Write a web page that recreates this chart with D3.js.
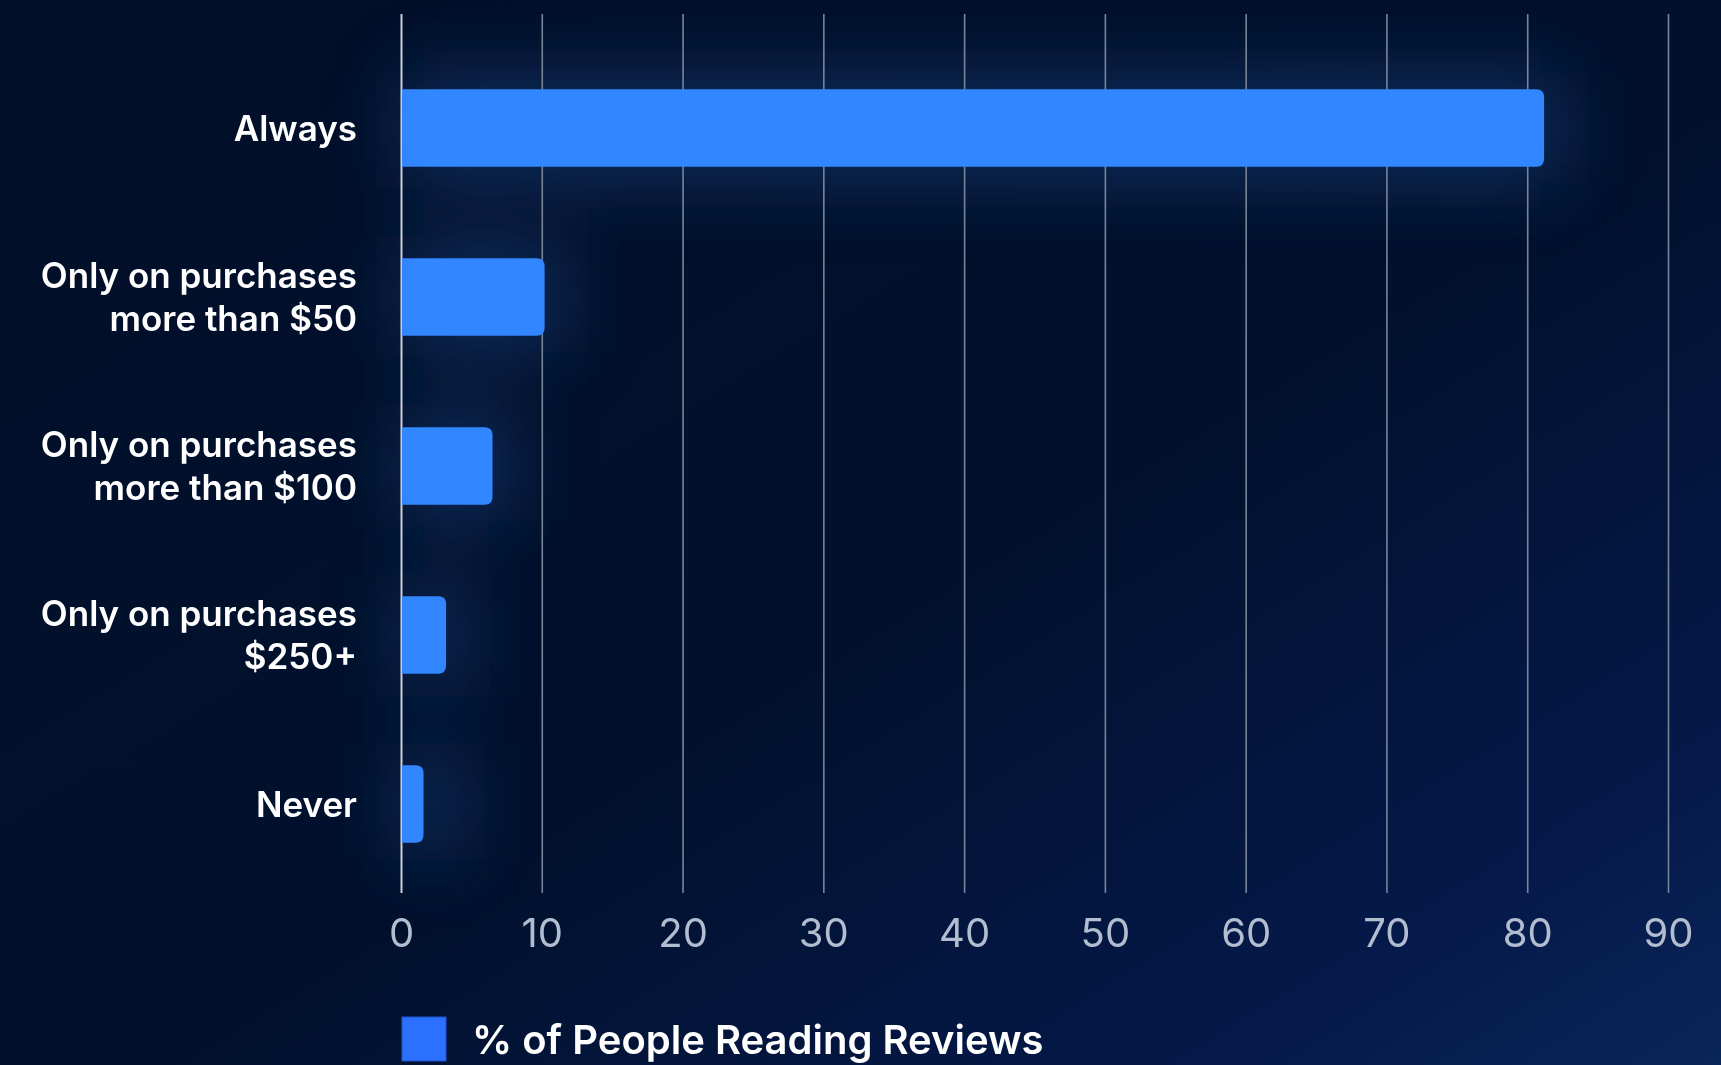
<!DOCTYPE html>
<html>
<head>
<meta charset="utf-8">
<script src="https://cdn.jsdelivr.net/npm/d3@7"></script>
<style>
  html, body { margin: 0; padding: 0; background: #01112b; }
  svg { display: block; }
</style>
</head>
<body>
<svg id="chart" width="1721" height="1065"></svg>
<script>
// How often people read reviews before buying
const categories = [
  ["Always"],
  ["Only on purchases", "more than $50"],
  ["Only on purchases", "more than $100"],
  ["Only on purchases", "$250+"],
  ["Never"]
];
const values = [81.2, 10.2, 6.5, 3.2, 1.6];
const tickValues = [0, 10, 20, 30, 40, 50, 60, 70, 80, 90];
const seriesName = "% of People Reading Reviews";

const W = 1721, H = 1065;
const svg = d3.select("#chart");
const defs = svg.append("defs");

// background: deep navy, brightening toward the lower right
const bg = defs.append("linearGradient").attr("id", "bg")
  .attr("x1", "0").attr("y1", "0").attr("x2", "1").attr("y2", "1");
bg.append("stop").attr("offset", "0").attr("stop-color", "#020f29");
bg.append("stop").attr("offset", "0.55").attr("stop-color", "#01112d");
bg.append("stop").attr("offset", "0.85").attr("stop-color", "#05194a");
bg.append("stop").attr("offset", "1").attr("stop-color", "#0a2559");

const glow = defs.append("filter").attr("id", "glow")
  .attr("x", "-30%").attr("y", "-80%").attr("width", "160%").attr("height", "260%");
glow.append("feGaussianBlur").attr("stdDeviation", 36);

svg.append("rect").attr("width", W).attr("height", H).attr("fill", "url(#bg)");

const x = d3.scaleLinear().domain([0, 90]).range([401, 1668]);
const y = d3.scaleBand().domain(d3.range(values.length))
  .range([43.5, 888.5]).paddingInner(0.54).paddingOuter(0.27);

const gridTop = 14, gridBottom = 893;

// soft halo behind the bars
svg.append("g").attr("filter", "url(#glow)")
  .selectAll("rect").data(values).join("rect")
  .attr("x", x(0))
  .attr("y", (d, i) => y(i) - 16)
  .attr("width", d => Math.max(x(d) - x(0), 40) + 20)
  .attr("height", y.bandwidth() + 32)
  .attr("fill", "#2c5da8")
  .attr("opacity", 0.36);

// vertical grid and tick labels
const axis = d3.axisBottom(x).tickValues(tickValues)
  .tickSize(-(gridBottom - gridTop)).tickFormat(d3.format("d"));
const gAxis = svg.append("g").attr("transform", `translate(0,${gridBottom})`).call(axis);
gAxis.select(".domain").remove();
gAxis.selectAll(".tick line")
  .attr("stroke", d => d === 0 ? "#c9ced8" : "#7a8498")
  .attr("stroke-width", d => d === 0 ? 2 : 1.6);
gAxis.selectAll(".tick text")
  .attr("y", 54).attr("dy", 0)
  .attr("fill", "#b3bdd0")
  .attr("font-family", "Inter, 'Noto Sans', sans-serif")
  .attr("font-size", 40)
  .attr("font-weight", 400);

// bars with rounded right end
const r = 8;
function barPath(x0, x1, y0, h) {
  const rr = Math.min(r, (x1 - x0) / 2);
  return `M${x0},${y0}H${x1 - rr}Q${x1},${y0} ${x1},${y0 + rr}` +
         `V${y0 + h - rr}Q${x1},${y0 + h} ${x1 - rr},${y0 + h}H${x0}Z`;
}
svg.append("g").selectAll("path").data(values).join("path")
  .attr("d", (d, i) => barPath(x(0) + 1, x(d), y(i), y.bandwidth()))
  .attr("fill", "#3286ff");

// category labels
const lineH = 43;
const labels = svg.append("g")
  .attr("font-family", "Inter, 'Noto Sans', sans-serif")
  .attr("font-size", 35).attr("font-weight", 600)
  .attr("fill", "#ffffff").attr("text-anchor", "end");
categories.forEach((lines, i) => {
  const cy = y(i) + y.bandwidth() / 2;
  const first = cy + 12.7 - (lines.length - 1) * lineH / 2;
  const t = labels.append("text").attr("x", 357);
  lines.forEach((ln, k) => {
    t.append("tspan").attr("x", 357).attr("y", first + k * lineH).text(ln);
  });
});

// legend
const lg = svg.append("g");
lg.append("rect").attr("x", 402).attr("y", 1017).attr("width", 44).attr("height", 44)
  .attr("fill", "#2b70ff").attr("stroke", "#1f55c8").attr("stroke-width", 1);
lg.append("text").attr("x", 472).attr("y", 1054)
  .attr("font-family", "Inter, 'Noto Sans', sans-serif")
  .attr("font-size", 40).attr("font-weight", 600)
  .attr("fill", "#ffffff").text(seriesName);
</script>
</body>
</html>
